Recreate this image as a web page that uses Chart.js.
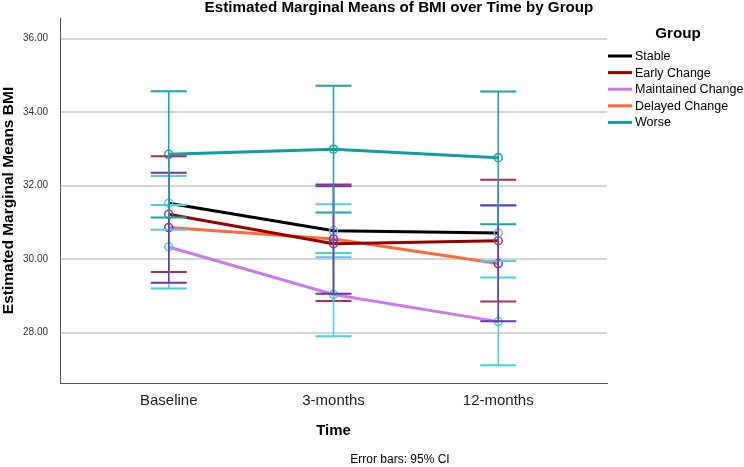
<!DOCTYPE html>
<html>
<head>
<meta charset="utf-8">
<script src="https://cdn.jsdelivr.net/npm/chart.js@4.4.1/dist/chart.umd.min.js"></script>
<style>
  html, body { margin: 0; padding: 0; background: #fff; }
</style>
</head>
<body>
<canvas id="chart" width="744" height="467"></canvas>
<script>
// categories and groups
const timePoints = ['Baseline', '3-months', '12-months'];
const groups = ['Stable', 'Early Change', 'Maintained Change', 'Delayed Change', 'Worse'];

// estimated marginal means
const stable = [31.52, 30.77, 30.71];
const earlyChange = [31.22, 30.42, 30.50];
const maintainedChange = [30.33, 29.04, 28.30];
const delayedChange = [30.86, 30.55, 29.88];
const worse = [32.85, 32.99, 32.76];

// 95% CI bounds
const stableLow = [30.80, 30.05, 29.95];
const stableHigh = [32.26, 31.49, 31.47];
const earlyLow = [29.65, 28.86, 28.85];
const earlyHigh = [32.80, 31.98, 32.16];
const maintainedLow = [29.20, 27.90, 27.11];
const maintainedHigh = [31.47, 30.17, 29.50];
const delayedLow = [29.36, 29.06, 28.31];
const delayedHigh = [32.35, 32.03, 31.46];
const worseLow = [31.13, 31.27, 30.95];
const worseHigh = [34.57, 34.72, 34.56];

const yTicks = [28, 30, 32, 34, 36];

const means = [stable, earlyChange, maintainedChange, delayedChange, worse];
const lows = [stableLow, earlyLow, maintainedLow, delayedLow, worseLow];
const highs = [stableHigh, earlyHigh, maintainedHigh, delayedHigh, worseHigh];

const lineColors = ['#000000', '#990000', '#cc7ae8', '#ff6a3a', '#109e9e'];
const errorColors = ['#5cc6f5', '#a8305e', '#3ed6d6', '#6a35b8', '#17a5a5'];

Chart.defaults.font.family = '"Liberation Sans", Arial, sans-serif';
Chart.defaults.color = '#222';

// error bars drawn through the scales
const errorBars = {
    id: 'errorBars',
    afterDatasetsDraw(chart) {
        const { ctx, scales: { x, y } } = chart;
        ctx.save();
        lows.forEach((low, g) => {
            ctx.strokeStyle = errorColors[g];
            low.forEach((lo, i) => {
                const px = x.getPixelForValue(i);
                const y1 = y.getPixelForValue(lo);
                const y2 = y.getPixelForValue(highs[g][i]);
                ctx.lineWidth = 1.5;
                ctx.beginPath();
                ctx.moveTo(px, y1);
                ctx.lineTo(px, y2);
                ctx.stroke();
                ctx.lineWidth = 2;
                ctx.beginPath();
                ctx.moveTo(px - 18, y1); ctx.lineTo(px + 18, y1);
                ctx.moveTo(px - 18, y2); ctx.lineTo(px + 18, y2);
                ctx.stroke();
            });
        });
        ctx.restore();
    }
};

// title, legend and footnote
const decorations = {
    id: 'decorations',
    afterDraw(chart) {
        const ctx = chart.ctx;
        const family = Chart.defaults.font.family;
        ctx.save();
        ctx.fillStyle = '#000';
        ctx.textBaseline = 'middle';
        ctx.textAlign = 'center';
        ctx.font = 'bold 15.2px ' + family;
        ctx.fillText('Estimated Marginal Means of BMI over Time by Group', 399, 8);
        ctx.fillText('Group', 678, 34);

        ctx.textAlign = 'left';
        ctx.font = '12.5px ' + family;
        groups.forEach((name, g) => {
            const yy = 56 + g * 16.6;
            ctx.strokeStyle = lineColors[g];
            ctx.lineWidth = 3;
            ctx.beginPath();
            ctx.moveTo(608, yy);
            ctx.lineTo(632, yy);
            ctx.stroke();
            ctx.fillText(name, 635, yy + 0.5);
        });

        ctx.textAlign = 'center';
        ctx.font = '12px ' + family;
        ctx.fillText('Error bars: 95% CI', 400, 460);
        ctx.restore();
    }
};

const datasets = groups.map((name, g) => ({
    label: name,
    data: means[g].map((v, i) => ({ x: i, y: v })),
    borderColor: lineColors[g],
    borderWidth: 3,
    pointStyle: 'circle',
    pointRadius: 4,
    pointBorderWidth: 1.5,
    pointBorderColor: errorColors[g],
    pointBackgroundColor: 'rgba(0,0,0,0)',
    tension: 0,
    fill: false
}));

new Chart(document.getElementById('chart'), {
    type: 'line',
    data: { datasets: datasets },
    plugins: [errorBars, decorations],
    options: {
        responsive: false,
        animation: false,
        devicePixelRatio: 1,
        layout: { padding: { top: 15, right: 137, bottom: 0, left: 0 } },
        plugins: {
            legend: { display: false },
            tooltip: { enabled: false }
        },
        scales: {
            x: {
                type: 'linear',
                min: -0.66,
                max: 2.66,
                afterBuildTicks: s => { s.ticks = timePoints.map((_, i) => ({ value: i })); },
                afterFit: s => { s.height = 84; },
                ticks: {
                    callback: v => timePoints[v],
                    font: { size: 15 },
                    color: '#222',
                    padding: 9,
                    autoSkip: false,
                    maxRotation: 0
                },
                grid: { display: false, drawTicks: false },
                border: { color: '#555', width: 1 },
                title: {
                    display: true,
                    text: 'Time',
                    color: '#000',
                    font: { size: 15, weight: 'bold' },
                    padding: { top: 0, bottom: 27 }
                }
            },
            y: {
                min: 26.63,
                max: 36.56,
                afterBuildTicks: s => { s.ticks = yTicks.map(v => ({ value: v })); },
                afterFit: s => { s.width = 60; },
                ticks: {
                    callback: v => v.toFixed(2),
                    font: { size: 10 },
                    color: '#333',
                    padding: 12
                },
                grid: { color: '#d6d6d6', lineWidth: 2, drawTicks: false },
                border: { color: '#555', width: 1 },
                title: {
                    display: true,
                    text: 'Estimated Marginal Means BMI',
                    color: '#000',
                    font: { size: 15.5, weight: 'bold', lineHeight: 1.1 },
                    padding: { top: 0, bottom: 0 }
                }
            }
        }
    }
});
</script>
</body>
</html>
